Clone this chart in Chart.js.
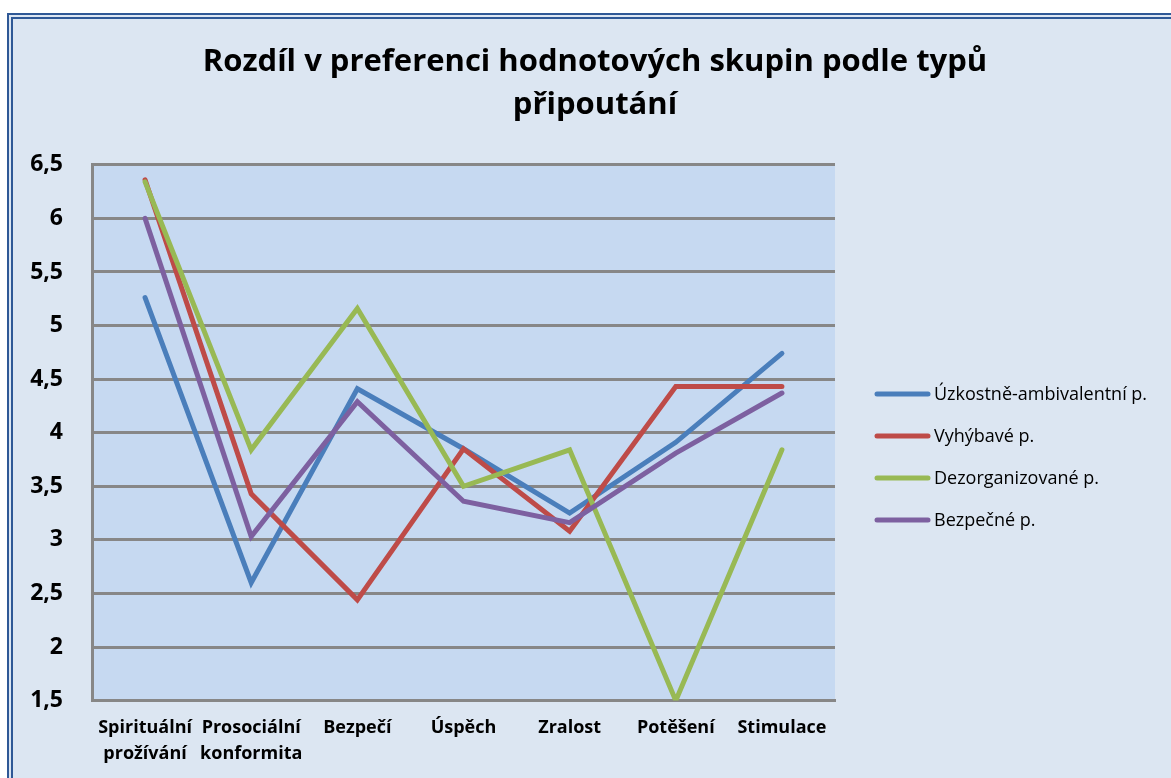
<!DOCTYPE html>
<html>
<head>
<meta charset="utf-8">
<script src="https://cdn.jsdelivr.net/npm/chart.js@4.4.1/dist/chart.umd.min.js"></script>
<style>
  html, body { margin: 0; padding: 0; background: #fff; overflow: hidden; }
  #frame { position: absolute; left: 7px; top: 13px; width: 1200px; height: 800px; background: #dce6f2; border: 6px double #2f5896; box-sizing: border-box; }
  #wrap { position: absolute; left: 0; top: 0; width: 1190px; height: 794px; }
</style>
</head>
<body>
<div id="frame"></div>
<div id="wrap"><canvas id="chart" width="1190" height="794"></canvas></div>
<script>
// --- data ---
const categories = [['Spirituální', 'prožívání'], ['Prosociální', 'konformita'], 'Bezpečí', 'Úspěch', 'Zralost', 'Potěšení', 'Stimulace'];
const seriesNames = ['Úzkostně-ambivalentní p.', 'Vyhýbavé p.', 'Dezorganizované p.', 'Bezpečné p.'];
const uzkostne = [5.26, 2.60, 4.41, 3.85, 3.25, 3.91, 4.74];
const vyhybave = [6.36, 3.43, 2.44, 3.85, 3.08, 4.43, 4.43];
const dezorganizovane = [6.34, 3.84, 5.16, 3.50, 3.84, 1.50, 3.84];
const bezpecne = [6.00, 3.03, 4.29, 3.36, 3.16, 3.81, 4.37];
const yMin = 1.5, yMax = 6.5, yStep = 0.5;
const titleLines = ['Rozdíl v preferenci hodnotových skupin podle typů', 'připoutání'];

const FONT = '"Open Sans"';
const gridGray = '#878787';

// pozadi plochy grafu
const plotBg = {
    id: 'plotBg',
    beforeDraw(chart) {
        const a = chart.chartArea;
        chart.ctx.save();
        chart.ctx.fillStyle = '#c6d9f1';
        chart.ctx.fillRect(a.left, a.top, a.right - a.left, a.bottom - a.top);
        chart.ctx.restore();
    }
};

// legenda vpravo (carka + text)
const sideLegend = {
    id: 'sideLegend',
    afterDraw(chart) {
        const ctx = chart.ctx;
        const x0 = chart.chartArea.right + 40;
        let y = 394;
        ctx.save();
        chart.data.datasets.forEach(ds => {
            ctx.strokeStyle = ds.borderColor;
            ctx.lineWidth = 5;
            ctx.lineCap = 'round';
            ctx.beginPath();
            ctx.moveTo(x0 + 2, y);
            ctx.lineTo(x0 + 53, y);
            ctx.stroke();
            ctx.fillStyle = '#000';
            ctx.font = '18px ' + FONT;
            ctx.textBaseline = 'middle';
            ctx.fillText(ds.label, x0 + 59, y + 1);
            y += 42;
        });
        ctx.restore();
    }
};

function line(label, data, color, order) {
    return {
        label: label, data: data, borderColor: color, backgroundColor: color,
        borderWidth: 5, pointRadius: 0, tension: 0, borderCapStyle: 'round',
        borderJoinStyle: 'miter', fill: false, order: order
    };
}

new Chart(document.getElementById('chart'), {
    type: 'line',
    data: {
        labels: categories,
        datasets: [
            line(seriesNames[0], uzkostne, '#4a7ebb', 4),
            line(seriesNames[1], vyhybave, '#be4b48', 3),
            line(seriesNames[2], dezorganizovane, '#98b954', 2),
            line(seriesNames[3], bezpecne, '#7d60a0', 1)
        ]
    },
    options: {
        responsive: false,
        animation: false,
        layout: { padding: { left: 0, right: 0, top: 0, bottom: 13 } },
        scales: {
            x: {
                offset: true,
                grid: { display: false, drawTicks: false },
                border: { display: true, color: gridGray, width: 3 },
                ticks: { color: '#000', font: { family: FONT, size: 18, weight: 'bold', lineHeight: 1.4 }, padding: 15, maxRotation: 0, autoSkip: false }
            },
            y: {
                min: yMin, max: yMax,
                afterFit: s => { s.width = 92; },
                grid: { color: gridGray, lineWidth: 3, drawTicks: false },
                border: { display: true, color: gridGray, width: 3 },
                ticks: {
                    stepSize: yStep, padding: 29, color: '#000',
                    font: { family: FONT, size: 23, weight: 'bold' },
                    callback: v => String(v).replace('.', ',')
                }
            },
            // misto pro legendu vpravo
            pad: {
                type: 'linear', position: 'right', display: true,
                afterFit: s => { s.width = 355; },
                grid: { display: false, drawTicks: false },
                border: { display: false },
                ticks: { display: false }
            }
        },
        plugins: {
            legend: { display: false },
            tooltip: { enabled: false },
            title: {
                display: true, text: titleLines, color: '#000',
                font: { family: FONT, size: 31, weight: 'bold', lineHeight: 1.4 },
                padding: { top: 40, bottom: 38 }
            }
        }
    },
    plugins: [plotBg, sideLegend]
});
</script>
</body>
</html>
